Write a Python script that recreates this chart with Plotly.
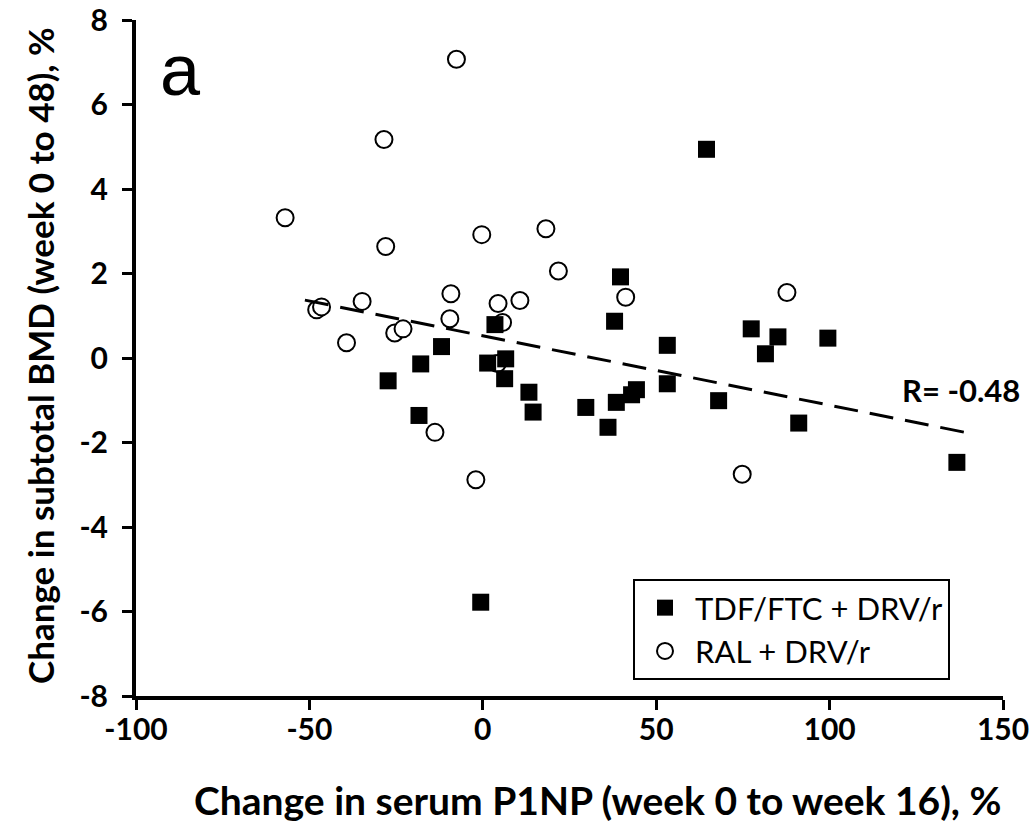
import plotly.graph_objects as go

# TDF/FTC + DRV/r (filled squares)
tdf_x = [64.5, 39.7, 38.0, 77.4, 85.1, 99.5, 81.5, 53.2, 6.6, 6.3, 13.3, 14.5, 29.7, 38.5,
         42.9, 44.3, 36.1, 53.2, 68.0, 91.1, 136.7, 3.5, -11.9, -17.9, -27.3, 1.4, -18.4, -0.6]
tdf_y = [4.94, 1.92, 0.87, 0.69, 0.50, 0.47, 0.10, 0.30, -0.02, -0.49, -0.81, -1.28, -1.17, -1.05,
         -0.87, -0.75, -1.64, -0.61, -1.01, -1.54, -2.47, 0.79, 0.27, -0.14, -0.54, -0.12, -1.36, -5.78]

# RAL + DRV/r (open circles)
ral_x = [-7.6, -28.5, -57.0, -28.0, -0.3, 18.2, 21.8, -9.2, 4.4, 10.7, -34.8, -47.9, -46.5, -9.5,
         -25.4, -23.0, -39.3, 5.7, 41.2, 87.7, -13.8, -2.0, 74.8, 4.2]
ral_y = [7.07, 5.17, 3.32, 2.64, 2.92, 3.06, 2.06, 1.52, 1.29, 1.36, 1.34, 1.14, 1.21, 0.93,
         0.59, 0.69, 0.36, 0.84, 1.44, 1.55, -1.76, -2.88, -2.75, -0.13]

# regression line endpoints
trend_x = [-51.3, 141.5]
trend_y = [1.37, -1.80]

x_ticks = [-100, -50, 0, 50, 100, 150]
y_ticks = [8, 6, 4, 2, 0, -2, -4, -6, -8]

FONT = "Lato"

W, H = 1035, 824
# plot area in page pixels: x 136..1003, y 20..696
L, T = 136, 20
R = W - 1003
B = H - 696
pw, ph = W - L - R, H - T - B


def px_x(p):
    return (p - L) / pw


def px_y(p):
    return (H - B - p) / ph


fig = go.Figure()
fig.add_trace(go.Scatter(
    x=ral_x, y=ral_y, mode="markers", name="RAL + DRV/r", legendrank=2,
    marker=dict(symbol="circle", size=17, color="white", line=dict(color="black", width=2)),
))
fig.add_trace(go.Scatter(
    x=tdf_x, y=tdf_y, mode="markers", name="TDF/FTC + DRV/r", legendrank=1,
    marker=dict(symbol="square", size=17, color="black", line=dict(width=0)),
))
fig.add_trace(go.Scatter(
    x=trend_x, y=trend_y, mode="lines", showlegend=False,
    line=dict(color="black", width=3, dash="24px,12px"),
))

fig.update_layout(
    width=W, height=H,
    paper_bgcolor="white", plot_bgcolor="white",
    margin=dict(l=L, r=R, t=T, b=B, autoexpand=False),
    font=dict(family=FONT, color="black"),
    showlegend=True,
    legend=dict(
        x=px_x(633), y=px_y(579), xanchor="left", yanchor="top",
        bordercolor="black", borderwidth=2, bgcolor="white",
        font=dict(family=FONT, size=31, color="black"),
        itemwidth=50,
        tracegroupgap=0,
    ),
    annotations=[
        dict(text="a", x=px_x(180), y=px_y(70), xref="paper", yref="paper", showarrow=False,
             xanchor="center", yanchor="middle",
             font=dict(family="Liberation Sans", size=72, color="black")),
        dict(text="<b>R= -0.48</b>", x=120.2, y=-0.76, xref="x", yref="y",
             xanchor="left", yanchor="middle",
             showarrow=False, font=dict(family=FONT, size=31, color="black")),
        dict(text="<b>Change in serum P1NP (week 0 to week 16), %</b>",
             x=px_x(597), y=px_y(800), xref="paper", yref="paper", showarrow=False,
             xanchor="center", yanchor="middle",
             font=dict(family=FONT, size=39, color="black")),
        dict(text="<b>Change in subtotal BMD (week 0 to 48), %</b>",
             x=px_x(40), y=px_y(356), xref="paper", yref="paper", showarrow=False, textangle=-90,
             xanchor="center", yanchor="middle",
             font=dict(family=FONT, size=35, color="black")),
    ],
)

fig.update_xaxes(
    range=[-100, 150], tickvals=x_ticks, ticktext=[str(v) for v in x_ticks],
    showline=True, linecolor="black", linewidth=4, mirror=False,
    ticks="outside", ticklen=10, tickwidth=3, tickcolor="black",
    showgrid=False, zeroline=False, automargin=False, ticklabelstandoff=-6,
    ticklabeloverflow="allow",
    tickfont=dict(family=FONT, size=30, color="black", weight="bold"),
)
fig.update_yaxes(
    range=[-8, 8], tickvals=y_ticks, ticktext=[str(v) for v in y_ticks],
    showline=True, linecolor="black", linewidth=4, mirror=False,
    ticks="outside", ticklen=10, tickwidth=3, tickcolor="black",
    showgrid=False, zeroline=False, automargin=False, ticklabelstandoff=8,
    ticklabeloverflow="allow",
    tickfont=dict(family=FONT, size=30, color="black", weight="bold"),
)

fig.write_html("out.html",
               config={"displayModeBar": False},
               post_script="document.body.style.margin='0px';document.body.style.overflow='hidden';")
